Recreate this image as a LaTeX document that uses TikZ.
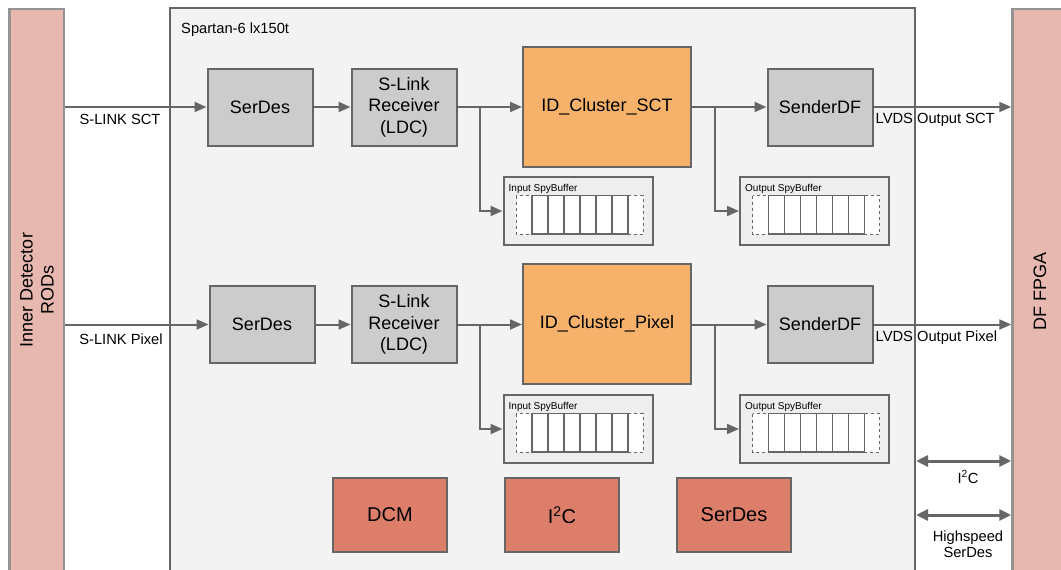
\documentclass[tikz,border=0pt]{standalone}
\usepackage{fontspec}
\setmainfont{Liberation Sans}
\usetikzlibrary{arrows.meta,positioning}

\definecolor{linegrey}{HTML}{666666}
\definecolor{boxgrey}{HTML}{CCCCCC}
\definecolor{chipbg}{HTML}{F3F3F3}
\definecolor{spybg}{HTML}{EEEEEE}
\definecolor{clusorange}{HTML}{F6B26B}
\definecolor{corered}{HTML}{DD7E6B}
\definecolor{barpink}{HTML}{E6B8AF}

\tikzset{
  blk/.style={draw=linegrey, line width=2pt, fill=boxgrey, inner sep=0pt,
    minimum width=105pt, minimum height=77pt, align=center,
    font=\fontsize{18}{21.5}\selectfont},
  clus/.style={blk, fill=clusorange, minimum width=168pt, minimum height=120pt},
  core/.style={blk, fill=corered, minimum width=114pt, minimum height=74pt,
    font=\fontsize{20}{24}\selectfont},
  spybox/.style={draw=linegrey, line width=2pt, fill=spybg, inner sep=0pt,
    minimum width=149pt, minimum height=68pt},
  bar/.style={draw=gray!85, line width=2.5pt, fill=barpink, inner sep=0pt},
  lbl/.style={inner sep=0pt, font=\fontsize{14.7}{16.5}\selectfont},
  arr/.style={draw=linegrey, line width=2pt, -{Triangle[length=12pt,width=10pt]}},
  biarr/.style={draw=linegrey, line width=3pt,
    {Triangle[length=12pt,width=11pt]}-{Triangle[length=12pt,width=11pt]}},
}

% spy buffer contents: #1 node, #2 title
\newcommand{\spybuf}[2]{%
  \begin{scope}[shift={(#1.center)}]
    \draw[linegrey, line width=1pt, dashed, fill=white] (-62,-15.5) rectangle (65,23);
    \foreach \i in {0,...,5}
      \draw[linegrey, line width=1.2pt] (-46+16*\i,-15.5) rectangle (-30+16*\i,23);
  \end{scope}
  \node[anchor=base west, inner sep=0pt, font=\fontsize{10}{12}\selectfont]
    (#1t) at ([shift={(6,15)}]#1.north west) {#2};
}

\begin{document}
\begin{tikzpicture}[x=1pt,y=-1pt]
\useasboundingbox (0,0) rectangle (1061,570);

% outer blocks
\node[bar, minimum width=54.5pt, minimum height=566pt] (ird) at (36.75,292) {};
\node[rotate=90, align=center, font=\fontsize{18}{21}\selectfont] (irdtxt) at (37,290) {Inner Detector\\RODs};
\node[bar, minimum width=58pt, minimum height=566pt] (dff) at (1041.5,292) {};
\node[rotate=90, font=\fontsize{18}{21}\selectfont] (dfftxt) at (1040,291) {DF FPGA};
\node[draw=linegrey, line width=2pt, fill=chipbg, minimum width=745pt, minimum height=572pt] (fpga) at (542.5,293.75) {};
\node[lbl, anchor=base west] (fpgat) at (181,33) {Spartan-6 lx150t};

% SCT chain
\node[blk] (serdesS) at (260,107) {SerDes};
\node[blk] (slinkS) at (404,107) {S-Link\\Receiver\\(LDC)};
\node[clus] (clusS) at (607,106.5) {ID\_Cluster\_SCT};
\node[blk] (sendS) at (820,107) {SenderDF};
\node[spybox] (spyinS) at (578,211) {};
\node[spybox] (spyoutS) at (814.5,211) {};
\spybuf{spyinS}{Input SpyBuffer}
\spybuf{spyoutS}{Output SpyBuffer}

% Pixel chain
\node[blk] (serdesP) at (262,324.5) {SerDes};
\node[blk] (slinkP) at (404,324.5) {S-Link\\Receiver\\(LDC)};
\node[clus] (clusP) at (607,324) {ID\_Cluster\_Pixel};
\node[blk] (sendP) at (820,324.5) {SenderDF};
\node[spybox] (spyinP) at (578,429) {};
\node[spybox] (spyoutP) at (814.5,429) {};
\spybuf{spyinP}{Input SpyBuffer}
\spybuf{spyoutP}{Output SpyBuffer}

% other cores
\node[core] (dcm) at (390,515) {DCM};
\node[core] (i2c) at (562,515) {I\textsuperscript{2}C};
\node[core] (serdesC) at (734,515) {SerDes};

% links
\foreach \r in {S,P} {
  \draw[arr] (ird.east |- serdes\r.west) -- (serdes\r.west);
  \draw[arr] (serdes\r) -- (slink\r);
  \draw[arr] (slink\r.east) -- (clus\r.west |- slink\r.east);
  \draw[arr] ([xshift=-22.5pt]spyin\r.west |- slink\r.east) |- (spyin\r.west);
  \draw[arr] (clus\r.east |- send\r.west) -- (send\r.west);
  \draw[arr] ([xshift=-24pt]spyout\r.west |- send\r.west) |- (spyout\r.west);
  \draw[arr] (send\r.east) -- (send\r.east -| dff.west);
}
\node[lbl] (slinkSt) at (120,119) {S-LINK SCT};
\node[lbl] (slinkPt) at (121,339) {S-LINK Pixel};
\node[lbl, anchor=west] (lvdsS) at (875.5,120) {LVDS Output SCT};
\node[lbl, anchor=west] (lvdsP) at (875.5,338) {LVDS Output Pixel};

% control links
\coordinate (i2cy) at (0,461);
\coordinate (hsy) at (0,515);
\draw[biarr] (fpga.east |- i2cy) -- (dff.west |- i2cy);
\draw[biarr] (fpga.east |- hsy) -- (dff.west |- hsy);
\node[lbl] (i2ct) at (968,477) {I\textsuperscript{2}C};
\node[lbl, align=center] (hst) at (968,544) {Highspeed\\SerDes};
\end{tikzpicture}
\end{document}
